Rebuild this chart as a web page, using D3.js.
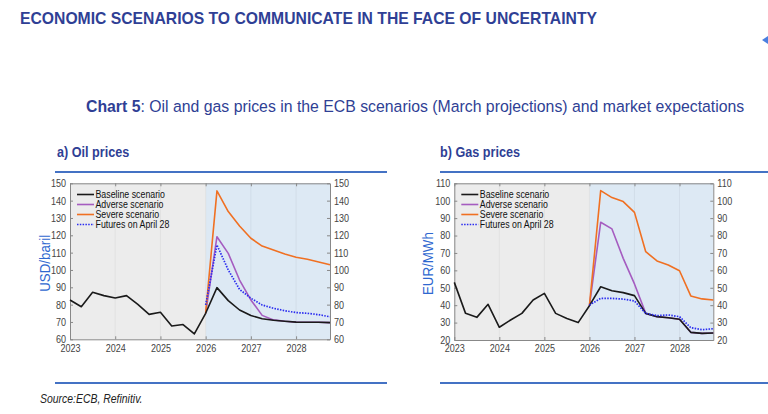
<!DOCTYPE html>
<html><head><meta charset="utf-8">
<script src="https://cdn.jsdelivr.net/npm/d3@7"></script>
<style>
body{margin:0;background:#fff;}
svg{display:block;}
</style></head>
<body>
<svg id="c" width="768" height="414"></svg>
<script>
// ---------- DATA ----------
const quarters = [2023,2023.25,2023.5,2023.75,2024,2024.25,2024.5,2024.75,2025,2025.25,2025.5,2025.75,
                  2026,2026.25,2026.5,2026.75,2027,2027.25,2027.5,2027.75,2028,2028.25,2028.5,2028.75];
const projQuarters = [2026,2026.25,2026.5,2026.75,2027,2027.25,2027.5,2027.75,2028,2028.25,2028.5,2028.75];
const yearTicks = [2023,2024,2025,2026,2027,2028];
const seriesNames = ["Baseline scenario","Adverse scenario","Severe scenario","Futures on April 28"];

const oilBaseline = [82.7,78.8,87.1,85.2,83.8,85.2,80.2,74.4,75.6,67.7,68.5,63.1,
                     75,89.8,82.3,76.9,73.7,71.9,71,70.4,69.9,69.8,69.8,69.6];
const oilAdverse  = [75,119.2,109.6,94.2,82.7,73.8,71.2,70.4,69.9,69.8,69.8,69.6];
const oilSevere   = [75,145.6,133.7,125.4,118.3,113.8,111.5,109.2,107.3,106.2,104.6,103];
const oilFutures  = [79.8,114.4,100,88.8,83.7,79.8,77.9,76.5,75.4,75,74.2,73];
const oilTicks = [60,70,80,90,100,110,120,130,140,150];

const gasBaseline = [53.1,35.3,33,40.5,27.3,31.5,35.3,43,46.8,35.3,32.4,30,
                     39.7,50.6,48.3,47.2,45.5,35.3,33.4,32.8,31.9,24.4,23.8,24];
const gasAdverse  = [39.7,87.6,83.8,66.9,52.2,35.3,33.4,32.8,31.9,24.4,23.8,24];
const gasSevere   = [39.7,105.8,101.8,99.5,93.3,70.7,65.4,63.1,59.8,45.3,43.6,43];
const gasFutures  = [40.1,43.9,43.9,43.5,42.4,35.3,34,34.4,33.4,27.1,25.9,26.5];
const gasTicks = [20,30,40,50,60,70,80,90,100,110];

// ---------- STYLE ----------
const colors = ["#1a1a1a","#a55cc0","#f07022","#2a2cf0"];
const titleBlue = "#2f3f95";
const lineBlue = "#4472c4";
const svg = d3.select("#c");
const sans = "'Liberation Sans',Arial,sans-serif";
const SQ = 0.86;

function squeeze(sel,f){
  sel.each(function(){
    const w=this.getComputedTextLength();
    d3.select(this).attr("textLength",w*f).attr("lengthAdjust","spacingAndGlyphs");
  });
}
function fitTo(sel,w){ sel.attr("textLength",w).attr("lengthAdjust","spacingAndGlyphs"); }

const title = svg.append("text").attr("x",20).attr("y",24)
  .attr("font-family",sans).attr("font-weight","bold").attr("font-size",17)
  .attr("fill",titleBlue).text("ECONOMIC SCENARIOS TO COMMUNICATE IN THE FACE OF UNCERTAINTY");
fitTo(title,577);

svg.append("path").attr("d","M762,40 L768,36 L768,44 Z").attr("fill","#4a7fe0");

const sub = svg.append("text").attr("x",0).attr("y",0)
  .attr("font-family",sans).attr("font-size",17).attr("fill",titleBlue);
sub.append("tspan").attr("font-weight","bold").text("Chart 5");
sub.append("tspan").text(":  Oil and gas prices in the ECB scenarios (March projections) and market expectations");
const subF = 659/sub.node().getComputedTextLength();
sub.attr("transform",`translate(86,112) scale(${subF},1)`);

const src = svg.append("text").attr("x",40).attr("y",403)
  .attr("font-family",sans).attr("font-style","italic").attr("font-size",12)
  .attr("fill","#222").text("Source:ECB, Refinitiv.");
squeeze(src,0.87);

function panel(opt){
  const g = svg.append("g");
  const ttl = g.append("text").attr("x",opt.px).attr("y",157)
    .attr("font-family",sans).attr("font-weight","bold").attr("font-size",14.5)
    .attr("fill",titleBlue).text(opt.title);
  squeeze(ttl,0.87);
  g.append("line").attr("x1",opt.lx1).attr("x2",opt.lx2).attr("y1",172).attr("y2",172)
    .attr("stroke",lineBlue).attr("stroke-width",2);
  g.append("line").attr("x1",opt.lx1).attr("x2",opt.lx2).attr("y1",383).attr("y2",383)
    .attr("stroke",lineBlue).attr("stroke-width",2);

  const x = d3.scaleLinear().domain([2023,2028.75]).range([opt.x0,opt.x1]);
  const y = d3.scaleLinear().domain([opt.ticks[0],opt.ticks[opt.ticks.length-1]]).range([opt.y1,opt.y0]);

  g.append("rect").attr("x",x(2023)).attr("y",opt.y0).attr("width",x(2026)-x(2023)).attr("height",opt.y1-opt.y0).attr("fill","#ececec");
  g.append("rect").attr("x",x(2026)).attr("y",opt.y0).attr("width",x(2028.75)-x(2026)).attr("height",opt.y1-opt.y0).attr("fill","#dde9f4");

  g.selectAll(".vg").data(yearTicks.slice(1)).enter().append("line")
    .attr("x1",d=>x(d)).attr("x2",d=>x(d)).attr("y1",opt.y0).attr("y2",opt.y1)
    .attr("stroke",d=>d>2026?"#cfdbe6":"#dedede").attr("stroke-width",0.8);

  const axStyle = a=>{a.selectAll("text").attr("font-family",sans).attr("font-size",10.5).attr("fill","#444");
    a.select(".domain").attr("stroke","#888"); a.selectAll(".tick line").attr("stroke","#888");
    squeeze(a.selectAll("text"),SQ);};
  g.append("g").attr("transform",`translate(0,${opt.y1})`)
    .call(d3.axisBottom(x).tickValues(yearTicks).tickFormat(d3.format("d")).tickSizeInner(-3).tickSizeOuter(0).tickPadding(5))
    .call(axStyle);
  g.append("g").attr("transform",`translate(0,${opt.y0})`)
    .call(d3.axisTop(x).tickValues(yearTicks).tickFormat("").tickSizeInner(-3).tickSizeOuter(0))
    .call(axStyle);
  g.append("g").attr("transform",`translate(${opt.x0},0)`)
    .call(d3.axisLeft(y).tickValues(opt.ticks).tickSizeInner(-3).tickSizeOuter(0).tickPadding(4))
    .call(axStyle);
  g.append("g").attr("transform",`translate(${opt.x1},0)`)
    .call(d3.axisRight(y).tickValues(opt.ticks).tickSizeInner(-3).tickSizeOuter(0).tickPadding(4))
    .call(axStyle);

  const yl = g.append("text").attr("transform",`translate(${opt.ylx},${(opt.y0+opt.y1)/2+2}) rotate(-90)`)
    .attr("text-anchor","middle").attr("font-family",sans).attr("font-size",15.5)
    .attr("fill","#2f68d0").text(opt.ylabel);
  squeeze(yl,SQ);

  const line = d3.line().x(d=>x(d[0])).y(d=>y(d[1]));
  const sets = [
    {d:d3.zip(projQuarters,opt.adverse), c:colors[1], dash:null},
    {d:d3.zip(projQuarters,opt.severe), c:colors[2], dash:null},
    {d:d3.zip(quarters,opt.baseline), c:colors[0], dash:null},
    {d:d3.zip(projQuarters,opt.futures), c:colors[3], dash:"1.5,1.3"}
  ];
  sets.forEach(s=>{
    g.append("path").datum(s.d).attr("d",line).attr("fill","none")
      .attr("stroke",s.c).attr("stroke-width",s.dash?1.7:1.6)
      .attr("stroke-dasharray",s.dash).attr("stroke-linejoin","round");
  });

  const lg = g.append("g");
  seriesNames.forEach((n,i)=>{
    const yy = 194.5 + i*10;
    lg.append("line").attr("x1",opt.x0+7).attr("x2",opt.x0+24).attr("y1",yy).attr("y2",yy)
      .attr("stroke",colors[i]).attr("stroke-width",1.6).attr("stroke-dasharray",i==3?"1.5,1.3":null);
    const lt = lg.append("text").attr("x",opt.x0+25.5).attr("y",yy+3.5).attr("font-family",sans)
      .attr("font-size",10).attr("fill","#111").text(n);
    squeeze(lt,0.88);
  });
}

panel({title:"a) Oil prices", px:57, lx1:55, lx2:387, x0:70, x1:330, y0:183.3, y1:339.3,
  ticks:oilTicks, ylabel:"USD/baril", ylx:50,
  baseline:oilBaseline, adverse:oilAdverse, severe:oilSevere, futures:oilFutures});
panel({title:"b) Gas prices", px:440, lx1:440, lx2:768, x0:454.3, x1:713.3, y0:183.3, y1:340,
  ticks:gasTicks, ylabel:"EUR/MWh", ylx:433,
  baseline:gasBaseline, adverse:gasAdverse, severe:gasSevere, futures:gasFutures});
</script>
</body></html>
